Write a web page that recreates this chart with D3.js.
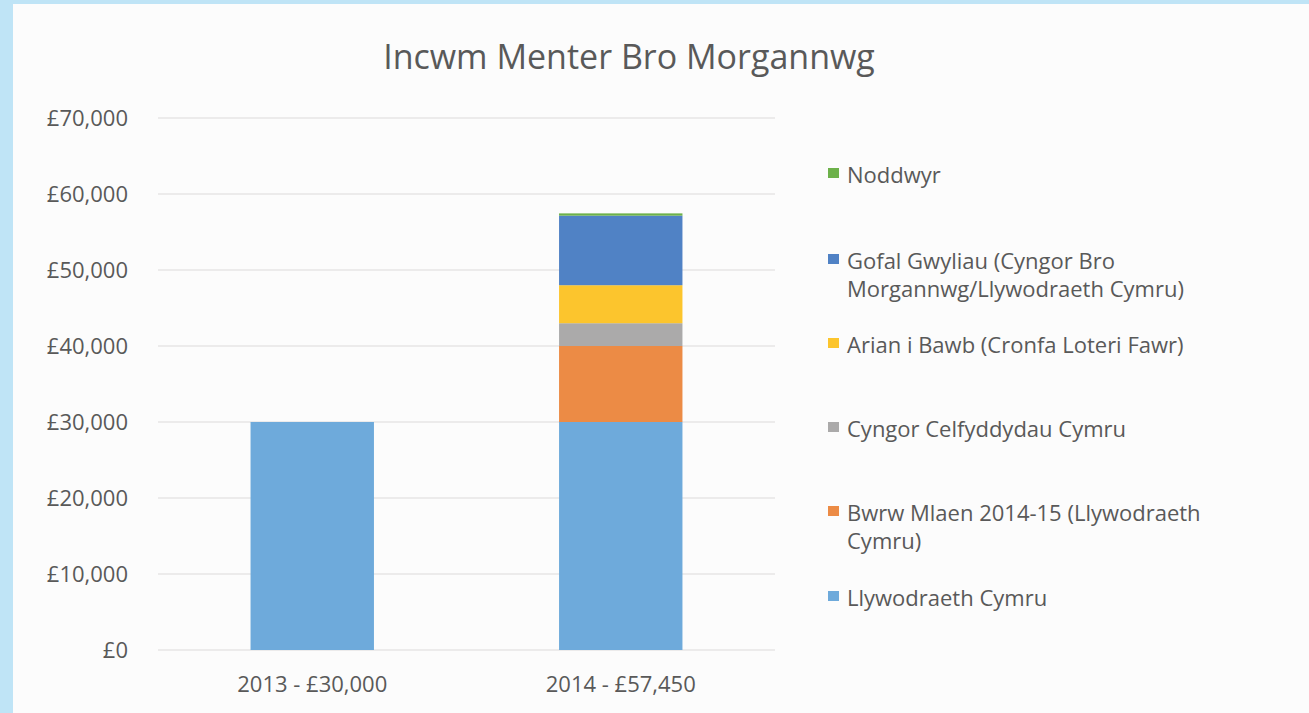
<!DOCTYPE html>
<html lang="cy">
<head>
    <meta charset="UTF-8">
    <title>Incwm Menter Bro Morgannwg</title>
    <style>
        body{ margin:0; background:#bfe4f6; }
        svg{ display:block; }
        text{ font-family:"Open Sans", sans-serif; fill:#595959; }
    </style>
</head>
<body>
    <script src="https://cdnjs.cloudflare.com/ajax/libs/d3/7.8.2/d3.min.js"></script>
    <script>

        // data
        const categories = ["2013 - £30,000", "2014 - £57,450"];
        const seriesNames = [
            "Llywodraeth Cymru",
            "Bwrw Mlaen 2014-15 (Llywodraeth Cymru)",
            "Cyngor Celfyddydau Cymru",
            "Arian i Bawb (Cronfa Loteri Fawr)",
            "Gofal Gwyliau (Cyngor Bro Morgannwg/Llywodraeth Cymru)",
            "Noddwyr"
        ];
        const llywodraeth = [30000, 30000];
        const bwrwMlaen = [0, 10000];
        const celfyddydau = [0, 3000];
        const arianIBawb = [0, 5000];
        const gofalGwyliau = [0, 9150];
        const noddwyr = [0, 300];
        const yTicks = [0, 10000, 20000, 30000, 40000, 50000, 60000, 70000];

        const colours = ["#6eaadb", "#ec8b45", "#abaaaa", "#fcc52d", "#5082c5", "#6db14a"];

        const w = 1309;
        const h = 713;

        const svg = d3.select("body")
            .append("svg")
            .attr("width", w)
            .attr("height", h);

        // white panel
        svg.append("rect")
            .attr("x", 13).attr("y", 4)
            .attr("width", w - 13).attr("height", h - 4)
            .attr("fill", "#fcfcfc");

        svg.append("text")
            .attr("x", 629).attr("y", 69)
            .attr("text-anchor", "middle")
            .style("font-size", "34px")
            .attr("fill", "#545454")
            .text("Incwm Menter Bro Morgannwg");

        const rows = categories.map((c, i) => ({
            cat: c,
            s0: llywodraeth[i], s1: bwrwMlaen[i], s2: celfyddydau[i],
            s3: arianIBawb[i], s4: gofalGwyliau[i], s5: noddwyr[i]
        }));
        const keys = ["s0", "s1", "s2", "s3", "s4", "s5"];
        const stacked = d3.stack().keys(keys)(rows);

        const x = d3.scaleBand()
            .domain(categories)
            .range([158, 775])
            .paddingInner(0.6)
            .paddingOuter(0.3);

        const y = d3.scaleLinear()
            .domain([0, 70000])
            .range([650, 118]);

        // gridlines
        svg.append("g")
            .selectAll("line")
            .data(yTicks)
            .enter()
            .append("line")
                .attr("x1", 158).attr("x2", 775)
                .attr("y1", d => y(d)).attr("y2", d => y(d))
                .attr("stroke", "#dcd9d9")
                .attr("stroke-width", 1.2);

        // y axis labels
        const yAxis = svg.append("g")
            .attr("transform", "translate(138,0)")
            .call(d3.axisLeft(y).tickValues(yTicks).tickSize(0).tickPadding(10)
                .tickFormat(d => "£" + d3.format(",")(d)));
        yAxis.select(".domain").remove();
        yAxis.selectAll("text")
            .style("font-size", "22px")
            .attr("fill", "#595959")
            .attr("dy", "0.35em");

        // bars
        svg.append("g")
            .selectAll("g")
            .data(stacked)
            .enter()
            .append("g")
                .attr("fill", (d, i) => colours[i])
            .selectAll("rect")
            .data(d => d)
            .enter()
            .append("rect")
                .attr("x", d => x(d.data.cat))
                .attr("y", d => y(d[1]))
                .attr("width", x.bandwidth())
                .attr("height", d => y(d[0]) - y(d[1]));

        // x axis
        const xAxis = svg.append("g")
            .attr("transform", "translate(0,650)")
            .call(d3.axisBottom(x).tickSize(0).tickPadding(26));
        xAxis.select(".domain").remove();
        xAxis.selectAll("text")
            .style("font-size", "22px")
            .attr("fill", "#595959")
            .attr("dy", "0.71em");

        // legend (Excel order, top entry = last series)
        const legendBaselines = [606, 521, 437, 353, 269, 183];
        const lineH = 27.5;
        const legend = svg.append("g");
        seriesNames.forEach((name, i) => {
            const g = legend.append("g");
            g.append("rect")
                .attr("x", 828).attr("y", legendBaselines[i] - 15)
                .attr("width", 11).attr("height", 10)
                .attr("fill", colours[i]);
            const t = g.append("text")
                .attr("x", 847).attr("y", legendBaselines[i])
                .style("font-size", "22px");
            // wrap words
            const words = name.split(" ");
            let line = [];
            let tspan = t.append("tspan").attr("x", 847).attr("dy", 0);
            words.forEach(word => {
                line.push(word);
                tspan.text(line.join(" "));
                if (tspan.node().getComputedTextLength() > 375 && line.length > 1) {
                    line.pop();
                    tspan.text(line.join(" "));
                    line = [word];
                    tspan = t.append("tspan").attr("x", 847).attr("dy", lineH).text(word);
                }
            });
        });

    </script>
</body>
</html>
